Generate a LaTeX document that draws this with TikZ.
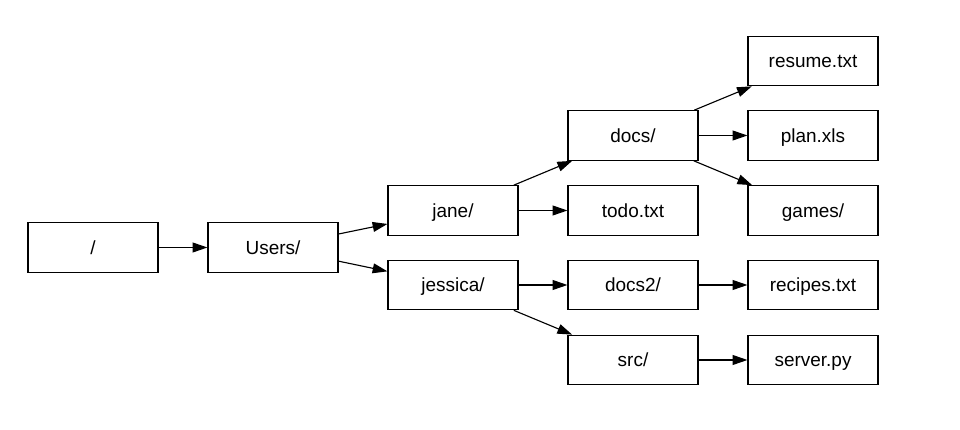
\documentclass[tikz,border=0pt]{standalone}
\usepackage{fontspec}
\setmainfont{Liberation Sans}
\usetikzlibrary{arrows.meta}

\begin{document}
\begin{tikzpicture}[
    font=\fontsize{13.5}{16}\selectfont,
    dir/.style={rectangle, draw=black, line width=0.8pt, fill=white, text centered, text height=9.7pt, text depth=0pt, minimum height=1.24cm, minimum width=3.25cm, inner sep=0pt},
    link/.style={-{Triangle[length=10.5pt, width=7pt]}, line width=0.8pt}
]
    \useasboundingbox (0, 0) rectangle (24, 10.75);

    % Root and home
    \node[dir] (root) at (2.325, 4.5625) {/};
    \node[dir] (users) at (6.825, 4.5625) {Users/};

    % User folders
    \node[dir] (jane) at (11.325, 5.4875) {jane/};
    \node[dir] (jessica) at (11.325, 3.625) {jessica/};

    % Third level
    \node[dir] (docs) at (15.825, 7.3625) {docs/};
    \node[dir] (todo) at (15.825, 5.4875) {todo.txt};
    \node[dir] (docstwo) at (15.825, 3.625) {docs2/};
    \node[dir] (src) at (15.825, 1.75) {src/};

    % Leaves
    \node[dir] (resume) at (20.325, 9.225) {resume.txt};
    \node[dir] (plan) at (20.325, 7.3625) {plan.xls};
    \node[dir] (games) at (20.325, 5.4875) {games/};
    \node[dir] (recipes) at (20.325, 3.625) {recipes.txt};
    \node[dir] (server) at (20.325, 1.75) {server.py};

    % Edges
    \draw[link] (root) -- (users);
    \draw[link] (users) -- (jane);
    \draw[link] (users) -- (jessica);
    \draw[link] (jane) -- (docs);
    \draw[link] (jane) -- (todo);
    \draw[link] (jessica) -- (docstwo);
    \draw[link] (jessica) -- (src);
    \draw[link] (docs) -- (resume);
    \draw[link] (docs) -- (plan);
    \draw[link] (docs) -- (games);
    \draw[link] (docstwo) -- (recipes);
    \draw[link] (src) -- (server);
\end{tikzpicture}
\end{document}
